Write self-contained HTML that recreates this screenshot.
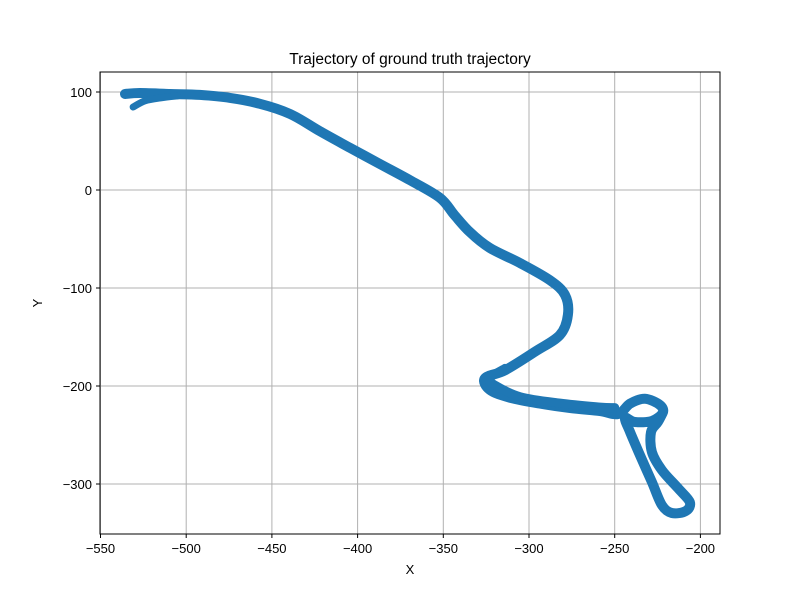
<!DOCTYPE html>
<html><head><meta charset="utf-8"><style>
body{margin:0;background:#fff}
svg text{font-family:"Liberation Sans","DejaVu Sans",sans-serif;fill:#000}
</style></head><body>
<svg id="chart" width="800" height="600" xmlns="http://www.w3.org/2000/svg">
<rect width="800" height="600" fill="#fff"/>
<g id="grid"></g>
<g id="series"></g>
<rect x="100" y="72" width="620" height="462" fill="none" stroke="#000" stroke-width="1"/>
<g id="ticks"></g>
<text x="410" y="64" font-size="15.5" text-anchor="middle">Trajectory of ground truth trajectory</text>
<text x="410" y="574" font-size="13" text-anchor="middle">X</text>
<text x="42" y="303" font-size="13" text-anchor="middle" transform="rotate(-90 42 303)">Y</text>
</svg>
<script>
const xTicks=[-550,-500,-450,-400,-350,-300,-250,-200];
const yTicks=[100,0,-100,-200,-300];
const mainX=[-535.7,-527,-509.5,-492,-474.4,-457,-439.4,-422,-404.4,-387,-369.4,-352,-343.5,-334.5,-323,-305.3,-287.8,-279,-277.3,-282,-296.5,-314,-325.7,-322.8,-311,-293.6,-276,-258.6,-248,-241,-232.4,-223.6,-222,-228.3,-238.2,-244,-241,-235.3,-228.3,-222.5,-216.7,-208.5,-206.2,-213.2,-222.5,-228.3,-228.8,-224.8,-222];
const mainY=[98,99,98,97,94,88,77.6,60,43,26.5,10,-8,-25.5,-43,-59,-74.5,-92,-107,-127.5,-148,-165,-184,-192,-204,-212,-218,-222.5,-225.5,-228.6,-218,-213,-219.4,-227.5,-235.7,-236.7,-232.6,-247,-270.4,-298,-321.4,-329.6,-327.6,-318.4,-304,-285.7,-267.3,-247,-236.7,-227.5];
const returnX=[-250,-258.6,-282,-305,-320,-323,-314];
const returnY=[-222,-221.5,-217.5,-211,-199,-192,-182];
const branchX=[-531,-524,-515,-505];
const branchY=[84.7,91,94,96];
const NS="http://www.w3.org/2000/svg";
const xs=v=>100.5+(v+550)*1.714;
const ys=v=>190-v*0.98;
const grid=document.getElementById('grid'),ticks=document.getElementById('ticks'),ser=document.getElementById('series');
function mk(tag,attrs,parent){const e=document.createElementNS(NS,tag);for(const k in attrs)e.setAttribute(k,attrs[k]);parent.appendChild(e);return e;}
xTicks.forEach(t=>{const x=xs(t);
 const g=mk('line',{x1:x,x2:x,y1:72,y2:534,stroke:'#b0b0b0','stroke-width':1},grid);
 
 
 const tk=mk('line',{x1:x,x2:x,y1:534,y2:538,stroke:'#000'},ticks);
 
 
 const tx=mk('text',{x:x,y:553,'font-size':13,'text-anchor':'middle'},ticks);tx.textContent=String(t).replace('-','\u2212');
 
 
});
yTicks.forEach(t=>{const y=ys(t);
 const g=mk('line',{x1:100,x2:720,y1:y,y2:y,stroke:'#b0b0b0','stroke-width':1},grid);
 
 
 const tk=mk('line',{x1:96,x2:100,y1:y,y2:y,stroke:'#000'},ticks);
 
 
 const tx=mk('text',{x:92,y:y+5,'font-size':13,'text-anchor':'end'},ticks);tx.textContent=String(t).replace('-','\u2212');
 
 
});
function path(X,Y,name,w){
 const P=X.map((v,i)=>[xs(v),ys(Y[i])]);
 let d='M'+P[0][0].toFixed(1)+' '+P[0][1].toFixed(1);
 for(let i=0;i<P.length-1;i++){
  const p0=P[Math.max(0,i-1)],p1=P[i],p2=P[i+1],p3=P[Math.min(P.length-1,i+2)];
  const c1=[p1[0]+(p2[0]-p0[0])/6,p1[1]+(p2[1]-p0[1])/6];
  const c2=[p2[0]-(p3[0]-p1[0])/6,p2[1]-(p3[1]-p1[1])/6];
  d+=' C'+c1.map(v=>v.toFixed(1)).join(' ')+' '+c2.map(v=>v.toFixed(1)).join(' ')+' '+p2.map(v=>v.toFixed(1)).join(' ');
 }
 const p=mk('path',{d:d,fill:'none',stroke:'#1f77b4','stroke-width':w,'stroke-linejoin':'round','stroke-linecap':'round'},ser);
 
 
}
path(mainX,mainY,'trajectory-main',10);
path(returnX,returnY,'trajectory-return',9);
path(branchX,branchY,'trajectory-start-branch',7);
</script>
</body></html>
